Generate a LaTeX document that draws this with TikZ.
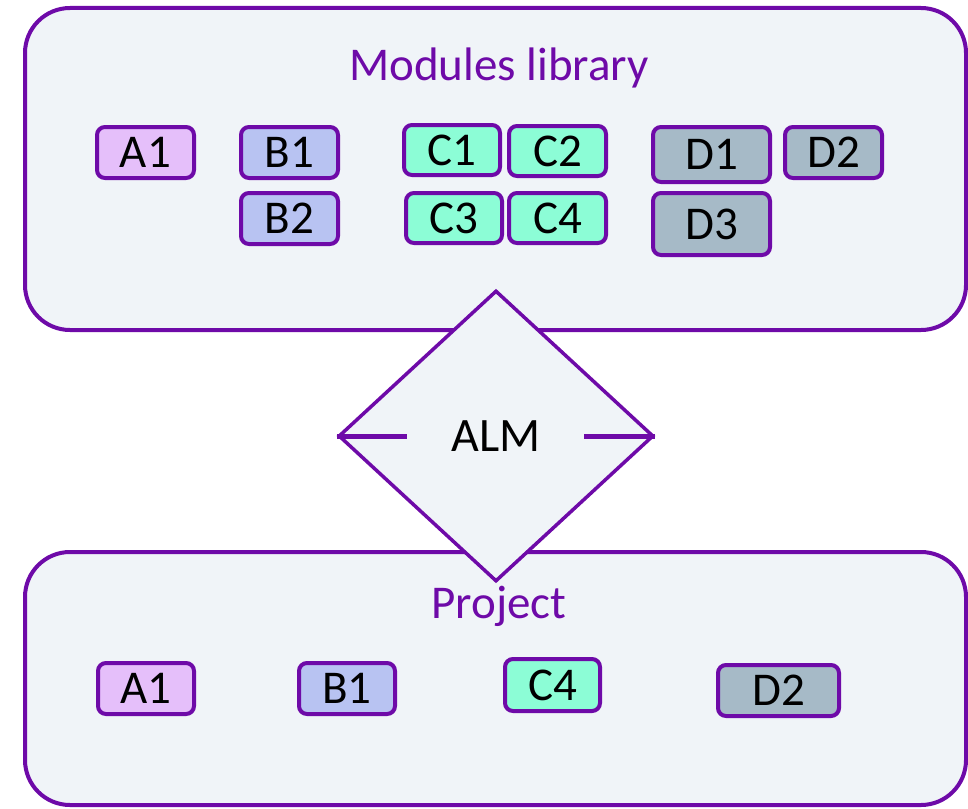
\documentclass[tikz,border=0pt]{standalone}
\usepackage{fontspec}
\setmainfont{Carlito}
\usetikzlibrary{shapes.geometric}
\definecolor{pline}{HTML}{6E0AA8}
\definecolor{panel}{HTML}{F0F4F8}
\definecolor{afill}{HTML}{E5BFFA}
\definecolor{bfill}{HTML}{B8C3F2}
\definecolor{cfill}{HTML}{8CFDD6}
\definecolor{dfill}{HTML}{A6BAC7}
\tikzset{
  panelbox/.style={draw=pline, fill=panel, line width=4pt, rounded corners=45pt},
  modbox/.style={draw=pline, line width=4pt, rounded corners=8pt, inner sep=0pt,
     font=\fontsize{47}{50}\selectfont, text=black},
  titletext/.style={font=\fontsize{47}{50}\selectfont, text=pline, inner sep=0pt, anchor=base},
  tee/.style={draw=pline, line width=5pt}
}
\newcommand{\modnode}[7]{% name, fill, left, top, right, bottom, text
  \node[modbox, fill=#2, minimum width={#5-#3-4}, minimum height={#6-#4-4}] (#1) at ({(#3+#5)/2},{(#4+#6)/2}) {#7};}
\begin{document}
\begin{tikzpicture}[x=1pt,y=-1pt]
\useasboundingbox (0,0) rectangle (968,808);
% panels
\path[panelbox] (25,8) rectangle (966,330);
\path[panelbox] (25,552) rectangle (966,805);
\node[titletext] (libtitle) at (499,80) {Modules library};
\node[titletext] (projtitle) at (499,618) {Project};
% diamond
\node[diamond, draw=pline, fill=panel, line width=3.5pt, inner sep=0pt,
      minimum width=315pt, minimum height=291pt, text=black,
      font=\fontsize{48}{50}\selectfont] (alm) at (496,436) {ALM};
\coordinate (teeL) at (407,436);
\coordinate (teeR) at (584,436);
\draw[tee] (alm.west) -- (teeL);
\draw[tee] (teeR) -- (alm.east);
% library modules
\modnode{la1}{afill}{95}{125}{196}{180}{A1}
\modnode{lb1}{bfill}{239}{125}{340}{180}{B1}
\modnode{lb2}{bfill}{239}{191}{340}{246}{B2}
\modnode{lc1}{cfill}{402}{123}{502}{177}{C1}
\modnode{lc2}{cfill}{507}{124}{608}{178}{C2}
\modnode{lc3}{cfill}{404}{191}{504}{245}{C3}
\modnode{lc4}{cfill}{507}{191}{608}{245}{C4}
\modnode{ld1}{dfill}{651}{125}{772}{184}{D1}
\modnode{ld2}{dfill}{783}{125}{884}{180}{D2}
\modnode{ld3}{dfill}{651}{191}{772}{257}{D3}
% project modules
\modnode{pa1}{afill}{96}{661}{196}{716}{A1}
\modnode{pb1}{bfill}{297}{661}{397}{716}{B1}
\modnode{pc4}{cfill}{503}{657}{602}{713}{C4}
\modnode{pd2}{dfill}{716}{663}{841}{718}{D2}
\end{tikzpicture}
\end{document}
